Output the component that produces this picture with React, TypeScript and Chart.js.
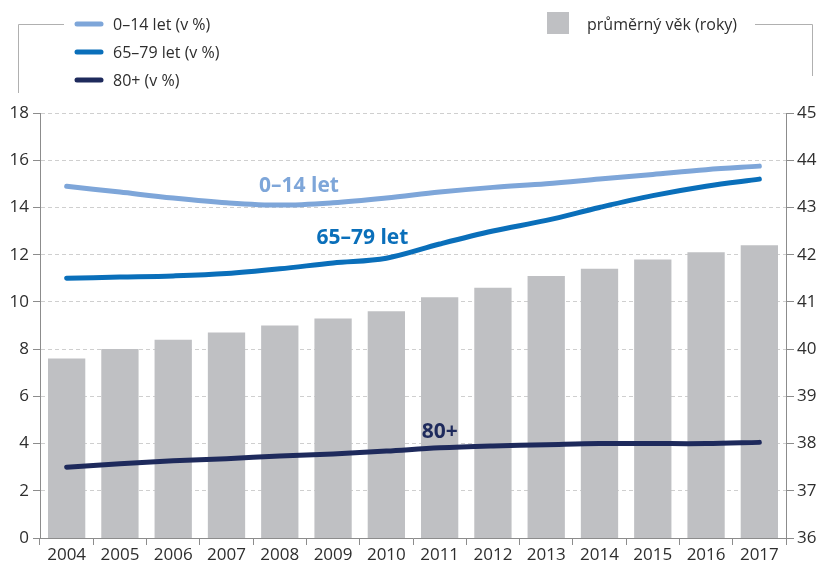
import { useEffect, useRef } from "react";
import { Chart, registerables } from "chart.js";

Chart.register(...registerables);

const years = ["2004", "2005", "2006", "2007", "2008", "2009", "2010", "2011", "2012", "2013", "2014", "2015", "2016", "2017"];
const age0to14 = [14.9, 14.65, 14.4, 14.2, 14.1, 14.2, 14.4, 14.65, 14.85, 15.0, 15.2, 15.4, 15.6, 15.75];
const age65to79 = [11.0, 11.05, 11.1, 11.2, 11.4, 11.65, 11.85, 12.45, 13.0, 13.45, 14.0, 14.5, 14.9, 15.2];
const age80plus = [3.0, 3.14, 3.27, 3.36, 3.47, 3.56, 3.68, 3.82, 3.9, 3.95, 4.0, 4.0, 4.0, 4.05];
const averageAge = [39.8, 40.0, 40.2, 40.35, 40.5, 40.65, 40.8, 41.1, 41.3, 41.55, 41.7, 41.9, 42.05, 42.2];

const legendLines = [
  { label: "0–14 let (v %)", color: "#7ea6d9" },
  { label: "65–79 let (v %)", color: "#0a6fba" },
  { label: "80+ (v %)", color: "#1e2a5c" },
];
const legendBar = { label: "průměrný věk (roky)", color: "#bfc0c3" };
const seriesLabels = [
  { text: "0–14 let", color: "#7ea6d9", index: 4.36, value: 14.9 },
  { text: "65–79 let", color: "#0a6fba", index: 5.55, value: 12.7 },
  { text: "80+", color: "#1e2a5c", index: 7.0, value: 4.5 },
];

const FONT = "'Open Sans', 'Noto Sans', sans-serif";

const decorPlugin = {
  id: "decor",
  afterDraw(chart: any) {
    const ctx = chart.ctx;
    ctx.save();
    ctx.strokeStyle = "#b0b0b0";
    ctx.lineWidth = 1;
    ctx.beginPath();
    ctx.moveTo(18.5, 93);
    ctx.lineTo(18.5, 24.5);
    ctx.lineTo(64, 24.5);
    ctx.moveTo(755, 24.5);
    ctx.lineTo(812.5, 24.5);
    ctx.lineTo(812.5, 76);
    ctx.stroke();
    ctx.font = `16px ${FONT}`;
    ctx.textBaseline = "middle";
    ctx.textAlign = "left";
    legendLines.forEach((it, i) => {
      const y = 24 + i * 28;
      ctx.strokeStyle = it.color;
      ctx.lineWidth = 5;
      ctx.lineCap = "round";
      ctx.beginPath();
      ctx.moveTo(77, y);
      ctx.lineTo(101, y);
      ctx.stroke();
      ctx.fillStyle = "#2e2e2e";
      ctx.fillText(it.label, 113, y + 1);
    });
    ctx.fillStyle = legendBar.color;
    ctx.fillRect(547, 12, 22, 22);
    ctx.fillStyle = "#2e2e2e";
    ctx.fillText(legendBar.label, 587, 25);
    const xs = chart.scales.x;
    const ys = chart.scales.y;
    ctx.font = `bold 21px ${FONT}`;
    ctx.textAlign = "center";
    seriesLabels.forEach((l) => {
      ctx.fillStyle = l.color;
      ctx.fillText(l.text, xs.getPixelForValue(l.index), ys.getPixelForValue(l.value));
    });
    ctx.restore();
  },
};

export default function App() {
  const ref = useRef<HTMLCanvasElement>(null);
  useEffect(() => {
    document.body.style.margin = "0";
    const lineDs = (label: string, data: number[], color: string) => ({
      type: "line" as const,
      label,
      data,
      borderColor: color,
      backgroundColor: color,
      borderWidth: 5,
      borderCapStyle: "round" as const,
      pointRadius: 0,
      tension: 0.35,
      yAxisID: "y",
      order: 1,
    });
    const tickFont = { family: FONT, size: 17 };
    const chart = new Chart(ref.current!, {
      data: {
        labels: years,
        datasets: [
          lineDs("0–14 let (v %)", age0to14, legendLines[0].color),
          lineDs("65–79 let (v %)", age65to79, legendLines[1].color),
          lineDs("80+ (v %)", age80plus, legendLines[2].color),
          {
            type: "bar" as const,
            label: legendBar.label,
            data: averageAge,
            backgroundColor: legendBar.color,
            barPercentage: 0.7,
            categoryPercentage: 1,
            yAxisID: "y1",
            order: 2,
          },
        ],
      },
      options: {
        responsive: false,
        animation: false,
        layout: { padding: { top: 113, left: 0, right: 0, bottom: 0 } },
        plugins: { legend: { display: false }, tooltip: { enabled: false } },
        scales: {
          x: {
            offset: true,
            grid: { offset: true, drawOnChartArea: false, tickLength: 7, color: "#8c8c8c" },
            border: { color: "#8c8c8c" },
            ticks: { color: "#2e2e2e", font: tickFont, padding: 0, maxRotation: 0 },
            afterFit: (s: any) => { s.height = 26; },
          },
          y: {
            position: "left",
            min: 0,
            max: 18,
            ticks: { stepSize: 2, color: "#2e2e2e", font: tickFont, padding: 4 },
            grid: { color: "#cfcfcf", tickColor: "#8c8c8c", tickLength: 7 },
            border: { color: "#8c8c8c", dash: [4, 3] },
            afterFit: (s: any) => { s.width = 40; },
          },
          y1: {
            position: "right",
            min: 36,
            max: 45,
            ticks: { stepSize: 1, color: "#2e2e2e", font: tickFont, padding: 3 },
            grid: { drawOnChartArea: false, color: "#8c8c8c", tickLength: 8 },
            border: { color: "#8c8c8c" },
            afterFit: (s: any) => { s.width = 35; },
          },
        },
      },
      plugins: [decorPlugin],
    });
    return () => chart.destroy();
  }, []);
  return (
    <div style={{ width: 821, height: 564 }}>
      <canvas ref={ref} width={821} height={564} />
    </div>
  );
}
